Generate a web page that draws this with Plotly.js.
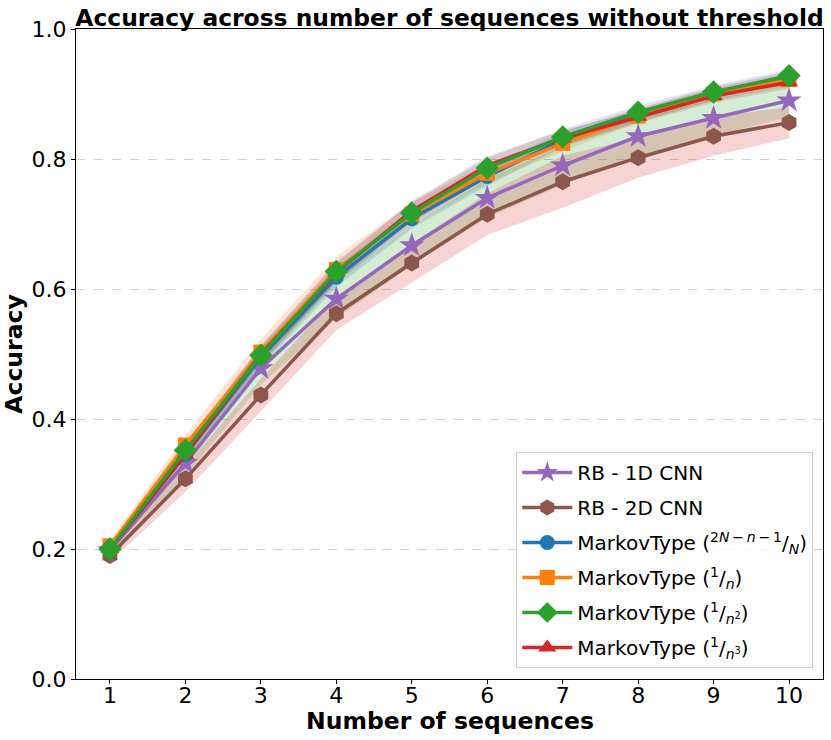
<!DOCTYPE html>
<html>
<head>
<meta charset="utf-8">
<script src="https://cdn.plot.ly/plotly-3.0.1.min.js"></script>
<style>
  html, body { margin: 0; padding: 0; background: #fff; }
  #chart { width: 831px; height: 740px; }
</style>
</head>
<body>
<div id="chart"></div>
<script>
  // values
  const seqs = [1, 2, 3, 4, 5, 6, 7, 8, 9, 10];

  const rb1d    = [0.198, 0.332, 0.478, 0.585, 0.667, 0.740, 0.790, 0.835, 0.863, 0.890];
  const rb1dStd = [0.010, 0.020, 0.025, 0.030, 0.030, 0.030, 0.030, 0.030, 0.028, 0.025];

  const rb2d    = [0.190, 0.308, 0.437, 0.562, 0.640, 0.715, 0.765, 0.802, 0.835, 0.856];
  const rb2dStd = [0.010, 0.020, 0.025, 0.025, 0.030, 0.032, 0.040, 0.031, 0.030, 0.024];

  const mkLin    = [0.200, 0.345, 0.495, 0.618, 0.708, 0.773, 0.830, 0.868, 0.900, 0.925];
  const mkLinStd = [0.006, 0.012, 0.015, 0.015, 0.015, 0.014, 0.012, 0.010, 0.010, 0.010];

  const mkInv    = [0.205, 0.360, 0.503, 0.630, 0.715, 0.778, 0.824, 0.866, 0.900, 0.922];
  const mkInvStd = [0.008, 0.015, 0.020, 0.020, 0.018, 0.015, 0.012, 0.010, 0.010, 0.010];

  const mkInv2    = [0.200, 0.352, 0.498, 0.627, 0.717, 0.786, 0.834, 0.872, 0.903, 0.928];
  const mkInv2Std = [0.006, 0.012, 0.014, 0.015, 0.016, 0.015, 0.012, 0.010, 0.010, 0.010];

  const mkInv3    = [0.200, 0.345, 0.500, 0.625, 0.720, 0.790, 0.832, 0.865, 0.897, 0.918];
  const mkInv3Std = [0.006, 0.012, 0.014, 0.015, 0.015, 0.014, 0.012, 0.010, 0.010, 0.010];

  const yTicks = [0.0, 0.2, 0.4, 0.6, 0.8, 1.0];
  const yTickText = ['0.0', '0.2', '0.4', '0.6', '0.8', '1.0'];

  const C = ['#1f77b4', '#ff7f0e', '#2ca02c', '#d62728', '#9467bd', '#8c564b'];

  function rgba(hex, a) {
    let r = parseInt(hex.slice(1, 3), 16);
    let g = parseInt(hex.slice(3, 5), 16);
    let b = parseInt(hex.slice(5, 7), 16);
    return 'rgba(' + r + ',' + g + ',' + b + ',' + a + ')';
  }

  // fill_between style band: upper edge forward, lower edge back
  function band(mean, std, color) {
    let hi = mean.map((v, i) => v + std[i]);
    let lo = mean.map((v, i) => v - std[i]);
    return {
      x: seqs.concat(seqs.slice().reverse()),
      y: hi.concat(lo.reverse()),
      fill: 'toself',
      fillcolor: rgba(color, 0.2),
      line: {width: 0},
      mode: 'lines',
      hoverinfo: 'skip',
      showlegend: false
    };
  }

  function series(name, y, color, symbol, size, rank) {
    return {
      x: seqs, y: y, name: name,
      mode: 'lines+markers',
      line: {color: color, width: 3.5},
      marker: {color: color, symbol: symbol, size: size},
      legendgroup: 'g' + rank,
      legendrank: rank
    };
  }

  const thin = '\u2009';

  // band colours follow the fill cycle, not the line colours
  let data = [
    band(mkLin, mkLinStd, C[0]),
    band(mkInv, mkInvStd, C[1]),
    band(rb1d, rb1dStd, C[2]),
    band(rb2d, rb2dStd, C[3]),
    band(mkInv2, mkInv2Std, C[4]),
    band(mkInv3, mkInv3Std, C[5]),
    series('RB - 1D CNN', rb1d, C[4], 'star', 19, 1),
    series('RB - 2D CNN', rb2d, C[5], 'hexagon', 17, 2),
    series('MarkovType (<sup>2<i>N</i>' + thin + '−' + thin + '<i>n</i>' + thin + '−' + thin + '1</sup>/<sub><i>N</i></sub>)', mkLin, C[0], 'circle', 15, 3),
    series('MarkovType (<sup>1</sup>/<sub><i>n</i></sub>)', mkInv, C[1], 'square', 15, 4),
    series('MarkovType (<sup>1</sup>/<sub><i>n</i><sup>3</sup></sub>)', mkInv3, C[3], 'triangle-up', 16, 6),
    series('MarkovType (<sup>1</sup>/<sub><i>n</i><sup>2</sup></sub>)', mkInv2, C[2], 'diamond', 18, 5)
  ];

  let layout = {
    width: 831, height: 740,
    margin: {l: 76, r: 8, t: 29, b: 61, pad: 0},
    paper_bgcolor: '#fff', plot_bgcolor: '#fff',
    font: {family: 'DejaVu Sans', size: 20, color: '#000'},
    title: {
      text: 'Accuracy across number of sequences without threshold',
      font: {family: 'DejaVu Sans', size: 23.4, weight: 'bold', color: '#000'},
      x: 0.5, xref: 'paper', xanchor: 'center',
      y: 1, yref: 'paper', yanchor: 'bottom', pad: {b: 3}
    },
    xaxis: {
      range: [0.55, 10.45],
      tickvals: seqs,
      ticks: 'outside', ticklen: 4, tickwidth: 1, tickcolor: '#000',
      ticklabelstandoff: -7,
      showline: true, mirror: true, linecolor: '#000', linewidth: 1,
      showgrid: false, zeroline: false,
      tickfont: {size: 22}
    },
    yaxis: {
      range: [0, 1],
      tickvals: yTicks, ticktext: yTickText,
      ticks: 'outside', ticklen: 4, tickwidth: 1, tickcolor: '#000',
      showline: true, mirror: true, linecolor: '#000', linewidth: 1,
      showgrid: true, gridcolor: '#c4c4c4', griddash: 'dash', gridwidth: 0.8,
      zeroline: false,
      tickfont: {size: 22},
      title: {text: 'Accuracy', font: {size: 23.5, weight: 'bold'}, standoff: 8}
    },
    annotations: [{
      text: 'Number of sequences',
      xref: 'paper', yref: 'paper',
      x: 0.5, xanchor: 'center',
      y: -0.064, yanchor: 'middle',
      showarrow: false,
      font: {size: 23.5, weight: 'bold'}
    }],
    legend: {
      x: 0.987, xanchor: 'right',
      y: 0.017, yanchor: 'bottom',
      bgcolor: 'rgba(255,255,255,0.8)',
      bordercolor: '#d0d0d0', borderwidth: 1,
      font: {size: 20},
      itemwidth: 50,
      traceorder: 'grouped',
      tracegroupgap: 6
    },
    showlegend: true
  };

  Plotly.newPlot('chart', data, layout, {displayModeBar: false, staticPlot: true});
</script>
</body>
</html>
